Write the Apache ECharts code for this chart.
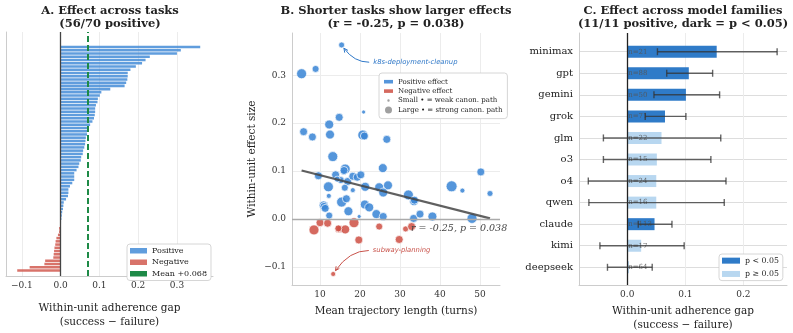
<!DOCTYPE html>
<html>
<head>
<meta charset="utf-8">
<script src="https://cdn.jsdelivr.net/npm/echarts@6/dist/echarts.min.js"></script>
<style>
  html, body { margin: 0; padding: 0; background: #fff; }
  #chart { width: 793px; height: 333px; }
</style>
</head>
<body>
<div id="chart"></div>
<script>
// ---- panel A: per-task gap, sorted high to low
var taskGaps = [0.360, 0.310, 0.300, 0.230, 0.219, 0.210, 0.194, 0.180, 0.173, 0.173,
    0.172, 0.169, 0.165, 0.128, 0.105, 0.101, 0.096, 0.095, 0.091, 0.089,
    0.089, 0.088, 0.086, 0.082, 0.076, 0.072, 0.068, 0.068, 0.065, 0.064,
    0.063, 0.061, 0.058, 0.057, 0.053, 0.052, 0.048, 0.046, 0.041, 0.035,
    0.035, 0.035, 0.030, 0.024, 0.020, 0.020, 0.019, 0.014, 0.008, 0.007,
    0.006, 0.004, 0.003, 0.002, 0.001, 0.0005, -0.004, -0.004, -0.007, -0.011,
    -0.013, -0.014, -0.016, -0.017, -0.018, -0.019, -0.040, -0.042, -0.080, -0.112];
var meanGap = 0.068;

// ---- panel B: trajectory length vs effect
var posLen = [15.4, 5.4, 8.9, 20.9, 14.8, 5.9, 8.1, 12.3, 12.5, 20.7, 21.1, 26.7, 13.2, 9.6,
    13.9, 16.3, 15.9, 16.0, 15.2, 16.9, 18.2, 19.3, 20.2, 25.7, 12.1, 16.2, 18.2, 21.3,
    24.8, 27.0, 25.8, 32.1, 33.5, 33.6, 42.9, 45.6, 52.5, 50.2, 12.2, 15.4, 16.6, 10.9,
    11.0, 11.3, 21.2, 22.3, 17.1, 12.3, 19.8, 24.1, 25.8, 33.4, 35.0, 38.1, 48.0, 14.3];
var posEff = [0.363, 0.303, 0.313, 0.223, 0.212, 0.182, 0.171, 0.197, 0.176, 0.175, 0.173, 0.166, 0.130, 0.090,
    0.092, 0.104, 0.098, 0.101, 0.081, 0.078, 0.089, 0.087, 0.092, 0.106, 0.067, 0.065, 0.060, 0.067,
    0.066, 0.070, 0.055, 0.050, 0.037, 0.039, 0.068, 0.059, 0.053, 0.098, 0.048, 0.035, 0.042, 0.028,
    0.026, 0.022, 0.030, 0.024, 0.016, 0.007, 0.005, 0.010, 0.005, 0.001, 0.010, 0.005, 0.001, 0.083];
var posSize = [6, 10, 7, 4, 8, 8, 8, 9, 9, 10, 8, 8, 10, 8,
    8, 10, 6, 8, 7, 8, 8, 8, 8, 9, 10, 7, 5, 9,
    9, 9, 9, 10, 9, 8, 11, 5, 6, 8, 5, 10, 8, 9,
    8, 8, 9, 9, 9, 7, 4, 9, 8, 8, 8, 9, 10, 6];
var negLen = [8.5, 10.0, 11.9, 14.7, 15.0, 16.3, 18.5, 19.7, 24.8, 29.8, 31.4, 32.9, 13.3, 14.6];
var negEff = [-0.023, -0.008, -0.009, -0.021, -0.021, -0.022, -0.008, -0.044, -0.016, -0.043, -0.021, -0.016, -0.115, -0.020];
var negSize = [10, 8, 8, 8, 7, 9, 10, 8, 7, 8, 6, 8, 5, 7];
var fitLen = [5.4, 52.5];
var fitEff = [0.101, 0.001];
var rVal = -0.25, pVal = 0.038;
var rTextAt = [56.8, -0.020];
var annNames = ['k8s-deployment-cleanup', 'subway-planning'];
var annLen = [15.4, 13.3];
var annEff = [0.363, -0.115];
var annTextLen = [23.3, 23.2];
var annTextEff = [0.327, -0.066];

// ---- panel C: per model family
var families = ['minimax', 'gpt', 'gemini', 'grok', 'glm', 'o3', 'o4', 'qwen', 'claude', 'kimi', 'deepseek'];
var famGap = [0.154, 0.106, 0.101, 0.065, 0.059, 0.051, 0.050, 0.050, 0.047, 0.024, 0.003];
var famLo = [0.052, 0.068, 0.046, 0.031, -0.041, -0.041, -0.067, -0.066, 0.019, -0.047, -0.034];
var famHi = [0.258, 0.147, 0.159, 0.101, 0.161, 0.144, 0.170, 0.167, 0.077, 0.098, 0.043];
var famN = [21, 88, 50, 71, 22, 15, 24, 16, 113, 17, 64];
var famSig = [1, 1, 1, 1, 0, 0, 0, 0, 1, 0, 0];

var SERIF = '"DejaVu Serif", serif';
var BLUE = '#3d87d6', RED = '#cf5449', GREEN = '#1e8a47';
var DARK = '#2f7bc8', LIGHT = '#b8d7f0';
var SPINE = '#cccccc', GRIDC = '#ececec';

function fmt1(v) { return v.toFixed(1).replace('-', '\u2212'); }

function frameX(grid, min, max, fmt, name, gap) {
    return {
        type: 'value', gridIndex: grid, min: min, max: max, splitNumber: 5,
        axisLine: {show: true, onZero: false, lineStyle: {color: SPINE, width: 1}},
        axisTick: {show: false},
        axisLabel: {fontSize: 9, color: '#333', margin: 5, showMinLabel: false, showMaxLabel: false, formatter: fmt},
        splitLine: {show: true, showMinLine: false, showMaxLine: false, lineStyle: {color: GRIDC, width: 1}},
        name: name, nameLocation: 'middle', nameGap: gap,
        nameTextStyle: {fontSize: 10.5, color: '#222', lineHeight: 14}
    };
}
function frameY(grid) {
    return {
        type: 'value', gridIndex: grid, min: 0, max: 1,
        axisLine: {show: true, onZero: false, lineStyle: {color: SPINE, width: 1}},
        axisTick: {show: false}, axisLabel: {show: false}, splitLine: {show: false}
    };
}
function hiddenX(grid, min, max) {
    return {type: 'value', gridIndex: grid, min: min, max: max, show: false, splitLine: {show: false}};
}
function vline(xi, yi, x, color, width, dash, name) {
    return {
        type: 'line', name: name, xAxisIndex: xi, yAxisIndex: yi, data: [], z: 5,
        itemStyle: {color: color}, lineStyle: {color: color},
        markLine: {
            silent: true, symbol: 'none', animation: false, label: {show: false},
            lineStyle: {color: color, width: width, type: dash, opacity: 1},
            data: [{xAxis: x}]
        }
    };
}

var nPos = taskGaps.filter(function (v) { return v > 0; }).length;
var taskIds = taskGaps.map(function (v, i) { return 'task' + (i + 1); });
var meanName = 'Mean +' + meanGap.toFixed(3);
var famPos = famGap.filter(function (v) { return v > 0; }).length;
var rText = 'r = ' + rVal.toFixed(2) + ', p = ' + pVal.toFixed(3);

var posData = posLen.map(function (x, i) { return [x, posEff[i], posSize[i]]; });
var negData = negLen.map(function (x, i) { return [x, negEff[i], negSize[i]]; });
var fitData = fitLen.map(function (x, i) { return [x, fitEff[i]]; });
var annData = annNames.map(function (n, i) { return [annLen[i], annEff[i], annTextLen[i], annTextEff[i], i]; });
var annColors = ['#2f78c8', '#c8524a'];
var errData = families.map(function (f, i) { return [famLo[i], famHi[i], i, famN[i]]; });

var RECT_ICON = 'path://M0,0M9,8M0,2.2L9,2.2L9,5.8L0,5.8Z';
var SMALL_ICON = 'path://M0,0M9,8M3.3,4A1.2,1.2,0,1,1,5.7,4A1.2,1.2,0,1,1,3.3,4Z';
var LARGE_ICON = 'path://M0,0M9,8M1,4A3.5,3.5,0,1,1,8,4A3.5,3.5,0,1,1,1,4Z';
var smallName = 'Small \u2022 = weak canon. path';
var largeName = 'Large \u2022 = strong canon. path';

function titleText(x, text) {
    return {
        type: 'text', x: x, y: 17.5, silent: true,
        style: {text: text, align: 'center', verticalAlign: 'middle', lineHeight: 13,
            fontFamily: SERIF, fontWeight: 'bold', fontSize: 11.5, fill: '#222'}
    };
}

var legendBase = {
    orient: 'vertical', selectedMode: false, backgroundColor: '#fff',
    borderColor: '#cccccc', borderWidth: 0.8, borderRadius: 3, itemGap: 0,
    itemStyle: {borderWidth: 0}
};

var option = {
    animation: false,
    textStyle: {fontFamily: SERIF, color: '#222'},
    graphic: [
        titleText(110, 'A. Effect across tasks\n(' + nPos + '/' + taskGaps.length + ' positive)'),
        titleText(396, 'B. Shorter tasks show larger effects\n(r = ' + rVal.toFixed(2) + ', p = ' + pVal.toFixed(3) + ')'),
        titleText(683, 'C. Effect across model families\n(' + famPos + '/' + families.length + ' positive, dark = p < 0.05)')
    ],
    legend: [
        Object.assign({}, legendBase, {
            left: 127, top: 244, itemWidth: 17, itemHeight: 5.5, padding: [1, 4, 1, 3],
            textStyle: {fontSize: 8, lineHeight: 11.5, color: '#222', fontFamily: SERIF},
            data: [{name: 'Positive', icon: 'rect'}, {name: 'Negative', icon: 'rect'}, {name: meanName, icon: 'rect'}]
        }),
        Object.assign({}, legendBase, {
            left: 379, top: 73, itemWidth: 9, itemHeight: 8, padding: [4, 5, 4, 5],
            textStyle: {fontSize: 7, lineHeight: 9.4, color: '#222', fontFamily: SERIF},
            data: [{name: 'Positive effect', icon: RECT_ICON}, {name: 'Negative effect', icon: RECT_ICON},
                {name: smallName, icon: SMALL_ICON}, {name: largeName, icon: LARGE_ICON}]
        }),
        Object.assign({}, legendBase, {
            left: 719, top: 254, itemWidth: 18, itemHeight: 6, padding: [0, 4, 0, 3],
            textStyle: {fontSize: 7.8, lineHeight: 13.3, color: '#222', fontFamily: SERIF},
            data: [{name: 'p < 0.05', icon: 'rect'}, {name: 'p \u2265 0.05', icon: 'rect'}]
        })
    ],
    grid: [
        {left: 6, top: 32, width: 207, height: 244, outerBoundsMode: 'none'},
        {left: 6, top: 45.4, width: 207, height: 226.7, outerBoundsMode: 'none'},
        {left: 292, top: 33, width: 208, height: 252, outerBoundsMode: 'none'},
        {left: 579, top: 33, width: 208, height: 252, outerBoundsMode: 'none'},
        {left: 579, top: 51.7, width: 208, height: 215.6, outerBoundsMode: 'none'}
    ],
    xAxis: [
        frameX(0, -0.141, 0.393, fmt1, 'Within-unit adherence gap\n(success \u2212 failure)', 25),
        hiddenX(1, -0.141, 0.393),
        frameX(2, 3, 55, function (v) { return String(v); }, 'Mean trajectory length (turns)', 16),
        frameX(3, -0.083, 0.275, fmt1, 'Within-unit adherence gap\n(success \u2212 failure)', 16),
        hiddenX(4, -0.083, 0.275)
    ],
    yAxis: [
        frameY(0),
        {type: 'category', gridIndex: 1, data: taskIds, inverse: true, show: false},
        (function () {
            var a = frameX(2, -0.138, 0.388, fmt1, 'Within-unit effect size', 33);
            a.axisLabel.margin = 6;
            return a;
        })(),
        frameY(3),
        {
            type: 'category', gridIndex: 4, data: families, inverse: true, boundaryGap: false,
            axisLine: {show: false}, axisTick: {show: false},
            axisLabel: {fontSize: 10, color: '#222', margin: 6},
            splitLine: {show: true, lineStyle: {color: '#dddddd', width: 1.2}}
        }
    ],
    series: [
        // A
        {
            type: 'bar', name: 'Positive', xAxisIndex: 1, yAxisIndex: 1, barGap: '-100%', barCategoryGap: '22%',
            itemStyle: {color: BLUE, opacity: 0.82},
            data: taskGaps.map(function (v) { return v > 0 ? v : '-'; })
        },
        {
            type: 'bar', name: 'Negative', xAxisIndex: 1, yAxisIndex: 1, barGap: '-100%', barCategoryGap: '22%',
            itemStyle: {color: RED, opacity: 0.82},
            data: taskGaps.map(function (v) { return v < 0 ? v : '-'; })
        },
        vline(0, 0, 0, '#444444', 1.3, 'solid'),
        vline(0, 0, meanGap, GREEN, 2, [6, 3], meanName),
        // B
        {
            type: 'line', xAxisIndex: 2, yAxisIndex: 2, data: [], z: 1,
            markLine: {silent: true, symbol: 'none', label: {show: false},
                lineStyle: {color: '#aaaaaa', width: 1.3, type: 'solid'}, data: [{yAxis: 0}]}
        },
        {
            type: 'scatter', name: 'Positive effect', xAxisIndex: 2, yAxisIndex: 2, data: posData,
            symbolSize: function (d) { return d[2]; },
            itemStyle: {color: BLUE, opacity: 0.88, borderColor: '#ffffff', borderWidth: 0.8}
        },
        {
            type: 'scatter', name: 'Negative effect', xAxisIndex: 2, yAxisIndex: 2, data: negData,
            symbolSize: function (d) { return d[2]; },
            itemStyle: {color: RED, opacity: 0.88, borderColor: '#ffffff', borderWidth: 0.8}
        },
        {type: 'scatter', name: smallName, xAxisIndex: 2, yAxisIndex: 2, data: [], itemStyle: {color: '#888888'}},
        {type: 'scatter', name: largeName, xAxisIndex: 2, yAxisIndex: 2, data: [], itemStyle: {color: '#888888'}},
        {
            type: 'line', xAxisIndex: 2, yAxisIndex: 2, data: fitData, symbol: 'none', z: 4, silent: true,
            lineStyle: {color: '#444444', width: 2.3, opacity: 0.85}
        },
        {
            type: 'custom', xAxisIndex: 2, yAxisIndex: 2, data: annData, z: 6, silent: true,
            encode: {x: [0, 2], y: [1, 3]},
            renderItem: function (params, api) {
                var p = api.coord([api.value(0), api.value(1)]);
                var t = api.coord([api.value(2), api.value(3)]);
                var col = annColors[api.value(4)];
                var s = [t[0] - 4, t[1]];
                var c = [p[0] + (s[0] - p[0]) * 0.45, s[1]];
                var dx = c[0] - p[0], dy = c[1] - p[1], d = Math.sqrt(dx * dx + dy * dy);
                var e = [p[0] + dx / d * 4, p[1] + dy / d * 4];
                var ux = (c[0] - e[0]), uy = (c[1] - e[1]), ud = Math.sqrt(ux * ux + uy * uy);
                ux /= ud; uy /= ud;
                var a = 0.45, L = 4.5;
                var h1 = [e[0] + L * (ux * Math.cos(a) - uy * Math.sin(a)), e[1] + L * (ux * Math.sin(a) + uy * Math.cos(a))];
                var h2 = [e[0] + L * (ux * Math.cos(-a) - uy * Math.sin(-a)), e[1] + L * (ux * Math.sin(-a) + uy * Math.cos(-a))];
                return {
                    type: 'group', children: [
                        {type: 'bezierCurve', shape: {x1: s[0], y1: s[1], x2: e[0], y2: e[1], cpx1: c[0], cpy1: c[1]},
                            style: {stroke: col, lineWidth: 1, fill: null}},
                        {type: 'polyline', shape: {points: [h1, e, h2]}, style: {stroke: col, lineWidth: 1, fill: null}},
                        {type: 'text', x: t[0], y: t[1], style: {text: annNames[api.value(4)], align: 'left', verticalAlign: 'middle',
                            fontFamily: '"DejaVu Sans", sans-serif', fontStyle: 'italic', fontSize: 6.8, fill: col}}
                    ]
                };
            }
        },
        {
            type: 'custom', xAxisIndex: 2, yAxisIndex: 2, data: [rTextAt], z: 6, silent: true,
            renderItem: function (params, api) {
                var p = api.coord([api.value(0), api.value(1)]);
                return {type: 'text', x: p[0], y: p[1], style: {text: rText, align: 'right', verticalAlign: 'middle',
                    fontFamily: SERIF, fontStyle: 'italic', fontSize: 9.5, fill: '#444444'}};
            }
        },
        // C
        {
            type: 'bar', name: 'p < 0.05', xAxisIndex: 4, yAxisIndex: 4, barGap: '-100%', barWidth: 12,
            itemStyle: {color: DARK},
            data: famGap.map(function (v, i) { return famSig[i] ? v : '-'; })
        },
        {
            type: 'bar', name: 'p \u2265 0.05', xAxisIndex: 4, yAxisIndex: 4, barGap: '-100%', barWidth: 12,
            itemStyle: {color: LIGHT},
            data: famGap.map(function (v, i) { return famSig[i] ? '-' : v; })
        },
        {
            type: 'custom', xAxisIndex: 4, yAxisIndex: 4, data: errData, z: 6, silent: true,
            encode: {x: [0, 1], y: 2},
            renderItem: function (params, api) {
                var idx = api.value(2);
                var lo = api.coord([api.value(0), idx]);
                var hi = api.coord([api.value(1), idx]);
                var z0 = api.coord([0, idx]);
                var cap = 3.5;
                var st = {stroke: '#333333', lineWidth: 1.4, opacity: 0.75};
                return {
                    type: 'group', children: [
                        {type: 'text', x: z0[0] + 1, y: z0[1], style: {text: 'n=' + api.value(3), align: 'left', verticalAlign: 'middle',
                            fontFamily: SERIF, fontSize: 7, fill: '#555555', opacity: 0.85}},
                        {type: 'line', shape: {x1: lo[0], y1: lo[1], x2: hi[0], y2: hi[1]}, style: st},
                        {type: 'line', shape: {x1: lo[0], y1: lo[1] - cap, x2: lo[0], y2: lo[1] + cap}, style: st},
                        {type: 'line', shape: {x1: hi[0], y1: hi[1] - cap, x2: hi[0], y2: hi[1] + cap}, style: st}
                    ]
                };
            }
        },
        vline(3, 3, 0, '#222222', 1.3, 'solid')
    ]
};

var chart = echarts.init(document.getElementById('chart'), null, {renderer: 'canvas'});
chart.setOption(option);
</script>
</body>
</html>
